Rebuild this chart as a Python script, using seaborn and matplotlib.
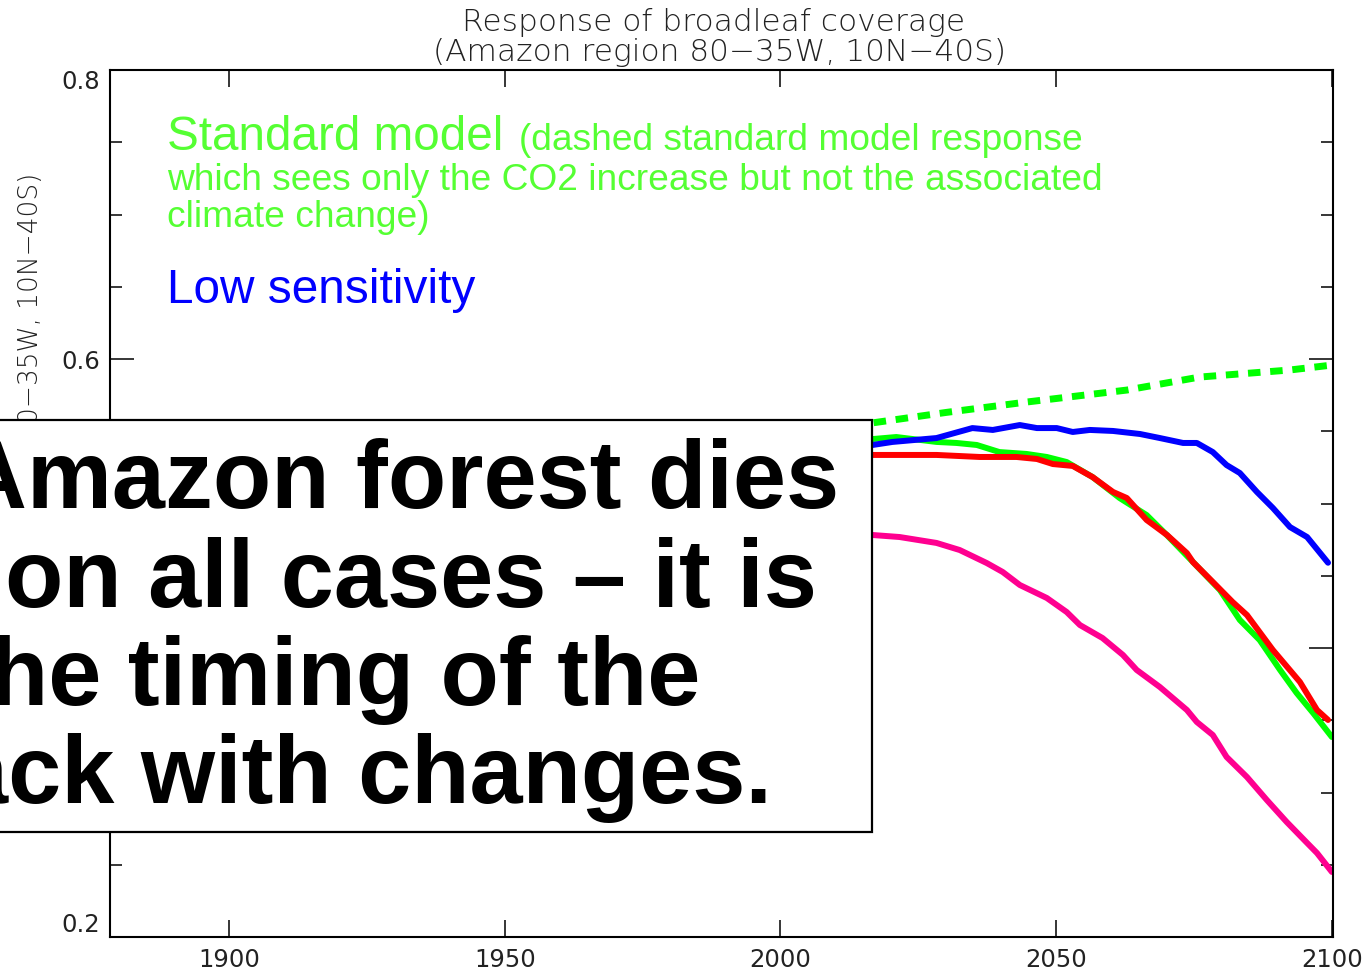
import matplotlib
matplotlib.use("Agg")
import matplotlib.pyplot as plt
import numpy as np
import pandas as pd
import seaborn as sns
from matplotlib.patches import Rectangle
from matplotlib.ticker import MultipleLocator, NullLocator

# ---------------- data ----------------
co2_only_years = [1880, 1920, 1960, 2000, 2015.6, 2030.0, 2044.6, 2062.8, 2076.0, 2092.4, 2100.0]
co2_only_vals  = [0.540, 0.541, 0.543, 0.549, 0.5552, 0.5630, 0.5702, 0.5785, 0.5875, 0.5924, 0.5958]

std_years = [1880, 1920, 1960, 2000, 2010, 2016.7, 2021.0, 2028.3, 2031.9, 2035.6, 2039.7,
             2044.6, 2048.3, 2051.9, 2056.6, 2061.5, 2066.4, 2070.1, 2074.8, 2079.7,
             2083.3, 2086.9, 2090.6, 2093.6, 2096.6, 2100.0]
std_vals  = [0.545, 0.546, 0.545, 0.546, 0.545, 0.5446, 0.5460, 0.5426, 0.5419, 0.5405, 0.5356,
             0.5343, 0.5322, 0.5287, 0.5183, 0.5038, 0.4920, 0.4780, 0.4595, 0.4401,
             0.4194, 0.4055, 0.3848, 0.3689, 0.3550, 0.3384]

low_years = [1880, 1920, 1960, 2000, 2010, 2016.7, 2020.3, 2028.3, 2034.8, 2038.5, 2043.4,
             2046.5, 2050.1, 2053.0, 2056.1, 2060.3, 2065.2, 2068.8, 2073.0, 2075.5,
             2078.4, 2080.9, 2083.3, 2086.4, 2089.3, 2092.4, 2095.5, 2099.3]
low_vals  = [0.540, 0.541, 0.540, 0.541, 0.540, 0.5405, 0.5426, 0.5453, 0.5522, 0.5509, 0.5543,
             0.5522, 0.5522, 0.5495, 0.5509, 0.5502, 0.5481, 0.5453, 0.5419, 0.5419,
             0.5356, 0.5266, 0.5211, 0.5080, 0.4969, 0.4837, 0.4768, 0.4590]

high_years = [1880, 1920, 1960, 2000, 2010, 2016.7, 2028.3, 2036.1, 2042.8, 2046.5, 2049.4,
              2053.0, 2056.6, 2060.3, 2062.8, 2066.4, 2070.1, 2073.7, 2074.8, 2078.4,
              2082.0, 2084.6, 2089.3, 2094.2, 2097.3, 2099.3]
high_vals  = [0.534, 0.535, 0.534, 0.535, 0.534, 0.5336, 0.5336, 0.5322, 0.5322, 0.5308, 0.5273,
              0.5260, 0.5183, 0.5080, 0.5038, 0.4886, 0.4782, 0.4657, 0.4595, 0.4457,
              0.4318, 0.4228, 0.3986, 0.3765, 0.3571, 0.3502]

vhigh_years = [1880, 1920, 1960, 2000, 2010, 2016.7, 2021.6, 2028.3, 2032.5, 2037.4, 2040.3,
               2043.4, 2048.3, 2051.9, 2054.3, 2058.4, 2062.1, 2064.6, 2068.8, 2073.7,
               2075.5, 2078.4, 2080.9, 2084.6, 2088.2, 2091.8, 2095.5, 2097.3, 2100.0]
vhigh_vals  = [0.480, 0.481, 0.480, 0.480, 0.479, 0.4782, 0.4768, 0.4727, 0.4678, 0.4588, 0.4526,
               0.4436, 0.4346, 0.4249, 0.4159, 0.4069, 0.3952, 0.3848, 0.3730, 0.3571,
               0.3488, 0.3398, 0.3246, 0.3107, 0.2948, 0.2796, 0.2651, 0.2581, 0.2450]

x_ticks = [1900, 1950, 2000, 2050, 2100]
y_ticks = [0.2, 0.4, 0.6, 0.8]
y_tick_labels = ["0.2", "", "0.6", "0.8"]   # 0.4 is hidden behind the overlay box

title_line1 = "Response of broadleaf coverage"
title_line2 = "(Amazon region 80\u221235W, 10N\u221240S)"
ylabel_text = "Broadleaf coverage (Amazon 80\u221235W, 10N\u221240S)"
big_lines = ["Amazon forest dies", "on all cases \u2013 it is", "he timing of the", "ack with changes."]

# ---------------- figure ----------------
sns.set_style("white")
plt.rcParams["font.family"] = ["DejaVu Sans"]

W, H = 1370, 973
fig = plt.figure(figsize=(W / 100, H / 100), dpi=100)
ax = fig.add_axes([110 / W, (H - 937) / H, (1333 - 110) / W, (937 - 70) / H])


def fx(px):
    return px / W


def fy(py):
    return 1 - py / H


lw = 4.3
sns.lineplot(x=std_years, y=std_vals, ax=ax, color="#00ff00", lw=lw, sort=True, estimator=None)
sns.lineplot(x=low_years, y=low_vals, ax=ax, color="#0000ff", lw=lw, sort=True, estimator=None)
sns.lineplot(x=high_years, y=high_vals, ax=ax, color="#ff0000", lw=lw, sort=True, estimator=None)
sns.lineplot(x=vhigh_years, y=vhigh_vals, ax=ax, color="#ff0090", lw=lw, sort=True, estimator=None)
sns.lineplot(x=co2_only_years, y=co2_only_vals, ax=ax, color="#00ff00", lw=5.0, sort=True, estimator=None)
ax.lines[-1].set_dashes([1.8, 1.4])
ax.lines[-1].set_dash_capstyle("butt")

ax.set_xlim(1878.4, 2100.2)
ax.set_ylim(0.2, 0.8)
ax.set_xlabel("")
ax.set_ylabel("")

for s in ax.spines.values():
    s.set_color("black")
    s.set_linewidth(1.5)

ax.set_xticks(x_ticks)
ax.set_xticklabels([str(v) for v in x_ticks])
ax.xaxis.set_minor_locator(NullLocator())
ax.set_yticks(y_ticks)
ax.set_yticklabels(y_tick_labels)
ax.yaxis.set_minor_locator(MultipleLocator(0.05))

ax.tick_params(axis="x", which="major", direction="in", length=12, width=1.3,
               top=True, bottom=True, labelsize=17.5, pad=8, labelcolor="#222222")
ax.tick_params(axis="y", which="major", direction="in", length=17, width=1.3,
               left=True, right=True, labelsize=17.5, pad=7, labelcolor="#222222")
ax.tick_params(axis="y", which="minor", direction="in", length=8.5, width=1.3,
               left=True, right=True)

yt = ax.yaxis.get_major_ticks()
yt[0].label1.set_va("bottom")
yt[-1].label1.set_va("top")

# title and y label
fig.text(fx(714), fy(31), title_line1, ha="center", va="baseline", fontsize=22.5,
         color="#222222", fontweight="light")
fig.text(fx(720), fy(61), title_line2, ha="center", va="baseline", fontsize=22.5,
         color="#222222", fontweight="light")
fig.text(fx(31), fy(173), ylabel_text, rotation=90, ha="center", va="top",
         fontsize=19, color="#222222", fontweight="light", zorder=1)

# annotations inside plot
green_txt = "#55ff33"
fig.text(fx(167), fy(150), "Standard model", ha="left", va="baseline",
         fontsize=34.3, color=green_txt, family="Liberation Sans")
fig.text(fx(519), fy(150), "(dashed standard model response", ha="left", va="baseline",
         fontsize=26.7, color=green_txt, family="Liberation Sans")
fig.text(fx(167), fy(190), "which sees only the CO2 increase but not the associated",
         ha="left", va="baseline", fontsize=26.7, color=green_txt, family="Liberation Sans")
fig.text(fx(167), fy(227), "climate change)", ha="left", va="baseline",
         fontsize=26.7, color=green_txt, family="Liberation Sans")
fig.text(fx(167), fy(303), "Low sensitivity", ha="left", va="baseline",
         fontsize=34.4, color="#0000ff", family="Liberation Sans")

# overlay box with big text
box = Rectangle((fx(-10), fy(832)), fx(872 + 10), (832 - 420) / H, transform=fig.transFigure,
                facecolor="white", edgecolor="black", lw=1.6, zorder=5)
fig.patches.append(box)
rights = [839, 817, 700, 772]
bases = [508, 607, 705, 803]
for txt, r, b in zip(big_lines, rights, bases):
    fig.text(fx(r), fy(b), txt, ha="right", va="baseline", fontsize=68.8,
             fontweight="bold", family="Liberation Sans", color="black", zorder=6)

fig.savefig("out.png", dpi=100)
